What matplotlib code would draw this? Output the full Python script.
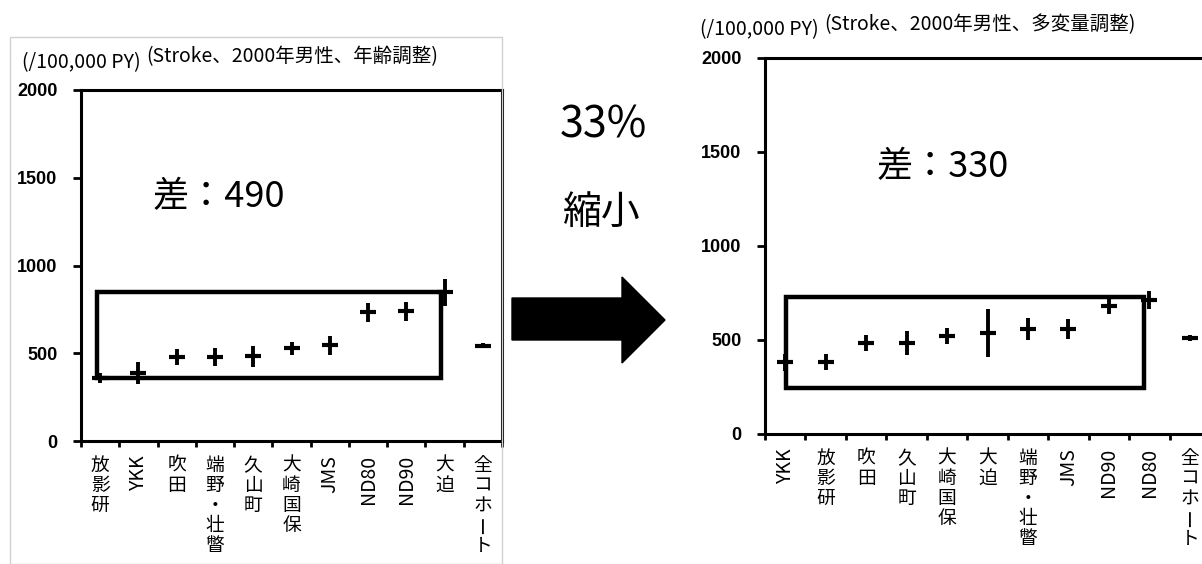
import matplotlib.pyplot as plt
import numpy as np
from matplotlib.patches import Polygon, Rectangle

plt.rcParams['font.family'] = ['Noto Sans CJK JP', 'DejaVu Sans']

# 年齢調整 (age adjusted)
cats_age = ['放影研', 'YKK', '吹田', '端野・壮瞥', '久山町', '大崎国保', 'JMS', 'ND80', 'ND90', '大迫', '全コホート']
rate_age = [357, 386, 477, 480, 483, 528, 545, 733, 739, 847, 543]
err_age = [28, 63, 45, 50, 59, 38, 54, 55, 55, 76, 15]

# 多変量調整 (multivariable adjusted)
cats_mv = ['YKK', '放影研', '吹田', '久山町', '大崎国保', '大迫', '端野・壮瞥', 'JMS', 'ND90', 'ND80', '全コホート']
rate_mv = [381, 383, 484, 484, 521, 537, 558, 560, 681, 711, 511]
err_mv = [45, 40, 44, 66, 44, 128, 58, 53, 44, 47, 16]

yticks = [0, 500, 1000, 1500, 2000]

W, H = 1202, 564
fig = plt.figure(figsize=(W / 100, H / 100), dpi=100)


def fx(x):
    return x / W


def fy(y):
    return 1 - y / H


def cat_label(ax, i, label):
    # latin names are rotated, japanese names are stacked upright
    if label.isascii():
        ax.annotate(label, xy=(i, 0), xycoords=('data', 'axes fraction'),
                    xytext=(0, -10), textcoords='offset points',
                    rotation=90, ha='center', va='top', fontsize=14)
        return
    for k, ch in enumerate(label):
        ax.annotate(ch, xy=(i, 0), xycoords=('data', 'axes fraction'),
                    xytext=(0, -10 - k * 14.5), textcoords='offset points',
                    rotation=90 if ch == 'ー' else 0,
                    ha='center', va='top', fontsize=13.5)


def panel(rect, cats, rate, err, box):
    ax = fig.add_axes(rect)
    x = np.arange(len(cats))
    rate = np.array(rate)
    err = np.array(err)
    ax.vlines(x, rate - err, rate + err, color='black', lw=2.8)
    ax.plot(x, rate, ls='none', marker='_', ms=11, mew=3, color='black')
    x0, x1, y0, y1 = box
    ax.add_patch(Rectangle((x0, y0), x1 - x0, y1 - y0, fill=False,
                           edgecolor='black', lw=3.2))
    ax.set_xlim(-0.5, len(cats) - 0.5)
    ax.set_ylim(0, 2000)
    ax.set_xticks(np.arange(-0.5, len(cats), 1))
    ax.set_xticklabels([])
    ax.set_yticks(yticks)
    ax.set_yticklabels([str(v) for v in yticks], fontfamily='Liberation Sans',
                       fontweight='bold', fontsize=13)
    ax.tick_params(axis='y', length=6, width=2, pad=11)
    ax.tick_params(axis='x', length=4, width=2)
    for s in ax.spines.values():
        s.set_linewidth(2.2)
    for i, c in enumerate(cats):
        cat_label(ax, i, c)
    return ax


# left: age adjusted
fig.add_artist(Rectangle((fx(10), fy(564)), fx(492), 527 / H, fill=False,
                         edgecolor='#d0d0d0', lw=1, transform=fig.transFigure))
ax1 = panel([fx(81), fy(441), fx(421), 351 / H], cats_age, rate_age, err_age,
            (-0.08, 8.9, rate_age[0], rate_age[9]))
d_age = rate_age[9] - rate_age[0]
ax1.text(3.1, 1390, f'差：{d_age}', fontsize=26, ha='center', va='center')
fig.text(fx(22), fy(63), '(/100,000 PY)', fontsize=14, va='center')
fig.text(fx(146), fy(57), '(Stroke、2000年男性、年齢調整)', fontsize=14, va='center')

# right: multivariable adjusted
ax2 = panel([fx(765), fy(434), fx(445), 376 / H], cats_mv, rate_mv, err_mv,
            (0.02, 8.88, 245, 729))
d_mv = rate_mv[9] - rate_mv[0]
ax2.text(3.9, 1420, f'差：{d_mv}', fontsize=26, ha='center', va='center')
fig.text(fx(700), fy(30), '(/100,000 PY)', fontsize=14, va='center')
fig.text(fx(824), fy(25), '(Stroke、2000年男性、多変量調整)', fontsize=14, va='center')

# middle: reduction and arrow
cut = round((1 - d_mv / d_age) * 100)
fig.text(fx(603), fy(125), f'{cut}%', fontsize=31, ha='center', va='center')
fig.text(fx(602), fy(213), '縮小', fontsize=28, ha='center', va='center')
arrow = [(512, 298), (622, 298), (622, 277), (665, 320), (622, 363), (622, 340), (512, 340)]
fig.add_artist(Polygon([(fx(a), fy(b)) for a, b in arrow], closed=True,
                       facecolor='black', edgecolor='black',
                       transform=fig.transFigure))

fig.savefig('out.png', dpi=100)
